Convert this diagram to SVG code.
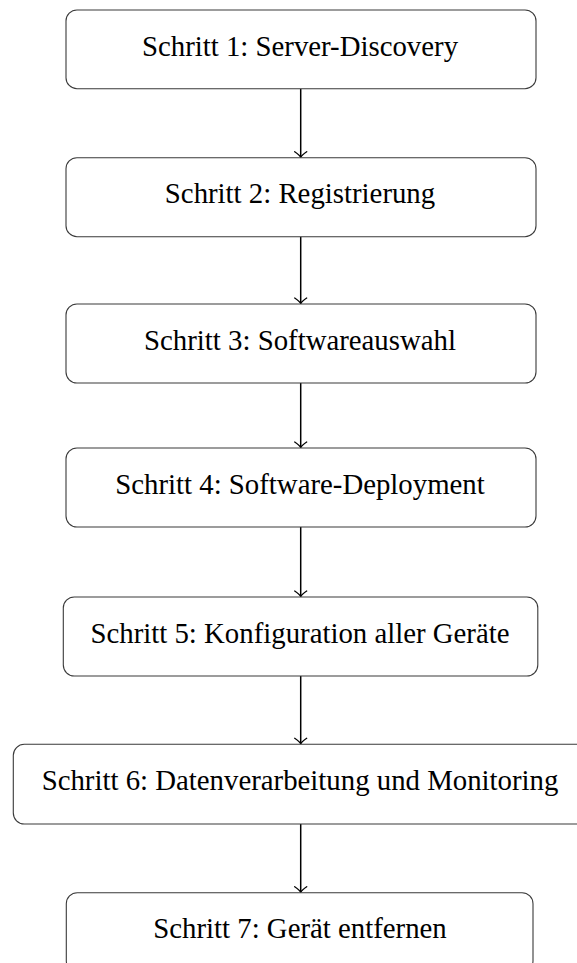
<svg xmlns="http://www.w3.org/2000/svg" width="577" height="963" viewBox="0 0 577 963">
  <style>
    .box { fill: #ffffff; stroke: #3a3a3a; stroke-width: 1.1; }
    .lbl { font-family: "Liberation Serif", "Times New Roman", serif; font-size: 28.8px; fill: #000000; text-anchor: middle; }
    .edge { stroke: #000000; stroke-width: 1.5; fill: none; }
  </style>
  <defs>
    <marker id="arrow" viewBox="-7 -7 9 14" markerWidth="9" markerHeight="14" refX="0" refY="0" orient="auto" markerUnits="userSpaceOnUse">
      <path d="M -5.5 -6 Q -2 -1 0 0 Q -2 1 -5.5 6" fill="none" stroke="#000000" stroke-width="1.3" stroke-linecap="round"/>
    </marker>
  </defs>
  <rect x="0" y="0" width="577" height="963" fill="#ffffff"/>

  <g id="connectors">
    <line class="edge" x1="300.7" y1="88.7" x2="300.7" y2="157.2" marker-end="url(#arrow)"/>
    <line class="edge" x1="300.7" y1="236.7" x2="300.7" y2="303.5" marker-end="url(#arrow)"/>
    <line class="edge" x1="300.7" y1="383" x2="300.7" y2="447.5" marker-end="url(#arrow)"/>
    <line class="edge" x1="300.7" y1="527" x2="300.7" y2="596.5" marker-end="url(#arrow)"/>
    <line class="edge" x1="300.7" y1="676" x2="300.7" y2="743.8" marker-end="url(#arrow)"/>
    <line class="edge" x1="300.7" y1="824" x2="300.7" y2="892.2" marker-end="url(#arrow)"/>
  </g>

  <g id="step1">
    <rect class="box" x="66" y="10" width="470" height="78.7" rx="11" ry="11"/>
    <text class="lbl" x="300" y="55.5">Schritt 1: Server-Discovery</text>
  </g>
  <g id="step2">
    <rect class="box" x="66" y="157.7" width="470" height="79" rx="11" ry="11"/>
    <text class="lbl" x="300" y="203.2">Schritt 2: Registrierung</text>
  </g>
  <g id="step3">
    <rect class="box" x="66" y="304" width="470" height="79" rx="11" ry="11"/>
    <text class="lbl" x="300" y="349.5">Schritt 3: Softwareauswahl</text>
  </g>
  <g id="step4">
    <rect class="box" x="66" y="448" width="470" height="79" rx="11" ry="11"/>
    <text class="lbl" x="300" y="493.5">Schritt 4: Software-Deployment</text>
  </g>
  <g id="step5">
    <rect class="box" x="63.3" y="597" width="474.5" height="79" rx="11" ry="11"/>
    <text class="lbl" x="300" y="642.5">Schritt 5: Konfiguration aller Geräte</text>
  </g>
  <g id="step6">
    <rect class="box" x="13.3" y="744.3" width="575" height="79.7" rx="11" ry="11"/>
    <text class="lbl" x="300" y="789.8">Schritt 6: Datenverarbeitung und Monitoring</text>
  </g>
  <g id="step7">
    <rect class="box" x="66.3" y="892.7" width="466.7" height="79" rx="11" ry="11"/>
    <text class="lbl" x="300" y="938.2">Schritt 7: Gerät entfernen</text>
  </g>
</svg>
